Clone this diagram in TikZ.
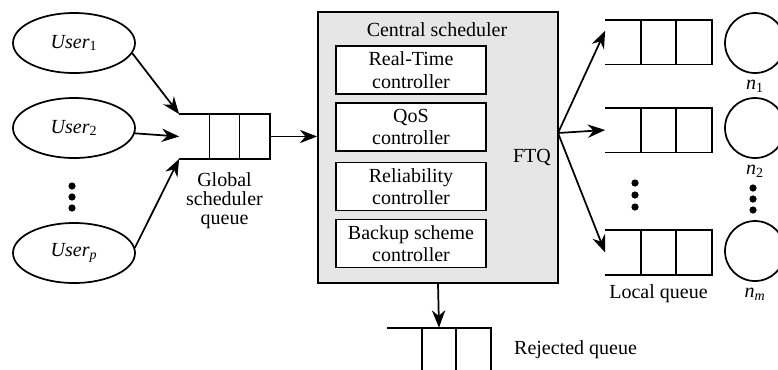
\documentclass[tikz,border=0pt]{standalone}
\usepackage{fontspec}
\setmainfont{Liberation Serif}
\usetikzlibrary{arrows.meta,shapes.geometric,positioning,calc}
\definecolor{csgray}{RGB}{230,230,230}

\begin{document}
\begin{tikzpicture}[x=0.75pt,y=0.75pt,yscale=-1,xscale=1,
  line width=1.3pt, font=\fontsize{15}{17}\selectfont,
  user/.style={draw, ellipse, minimum width=91.5pt, minimum height=45pt, inner sep=0pt},
  queue/.style={minimum height=32.25pt, inner sep=0pt},
  ctrl/.style={draw, fill=white, minimum width=112.5pt, minimum height=36pt, align=center, inner sep=0pt, line width=1.1pt},
  server/.style={draw, circle, minimum size=45pt, inner sep=0pt},
  arr/.style={-{Stealth[length=13pt,width=10pt]}}]
%set diagram size
\useasboundingbox (0,0) rectangle (778,369);

%Users
\node[user] (u1) at (74,43) {\textit{User}\textsubscript{1}};
\node[user] (u2) at (74,128) {\textit{User}\textsubscript{2}};
\node[user] (up) at (74,253) {\textit{User}\textsubscript{\textit{p}}};
\foreach \y in {186,197,208} \fill (72,\y) circle (2.7pt);

%Global scheduler queue
\node[queue, minimum width=66.75pt] (gq) at (224.5,136.5) {};
\node[align=center, font=\fontsize{15}{14.5}\selectfont, below=6pt of gq] (gqlabel) {Global\\scheduler\\queue};

%Central scheduler
\node[draw, fill=csgray, minimum width=180pt, minimum height=203.25pt] (cs) at (438,147.5) {};
\node (cstitle) at (437,30) {Central scheduler};
\node[ctrl] (rt) at (411,70) {Real-Time\\controller};
\node[ctrl] (qos) at (411,127) {QoS\\controller};
\node[ctrl] (rel) at (411,186.5) {Reliability\\controller};
\node[ctrl] (bk) at (411,243.5) {Backup scheme\\controller};
\node (ftq) at (532,157) {FTQ};

%Local queues and nodes
\node[queue, minimum width=78.75pt] (lq1) at (658.5,42) {};
\node[queue, minimum width=78.75pt] (lq2) at (658.5,130) {};
\node[queue, minimum width=78.75pt] (lq3) at (658.5,252.5) {};
\foreach \y in {183,195,207} \fill (635,\y) circle (2.7pt);
\node[below=3pt of lq3] (lqlabel) {Local queue};
\node[server] (s1) at (755,43) {};
\node[server] (s2) at (755,128) {};
\node[server] (s3) at (755,251) {};
\foreach \y in {188,199,210} \fill (753,\y) circle (2.7pt);
\node[below=1pt of s1] (n1) {\textit{n}\textsubscript{1}};
\node[below=1pt of s2] (n2) {\textit{n}\textsubscript{2}};
\node[below=1pt of s3] (nm) {\textit{n}\textsubscript{\textit{m}}};

%Rejected queue
\node[queue, minimum width=76.5pt] (rq) at (439,350) {};
\node[right=13.5pt of rq] (rqlabel) {Rejected queue};

%queue cells
\foreach \q in {gq,lq1,lq2,lq3,rq} {
  \draw (\q.north west) -- (\q.north east) -- (\q.south east) -- (\q.south west);
  \draw ($(\q.north west)!1/3!(\q.north east)$) -- ($(\q.south west)!1/3!(\q.south east)$);
  \draw ($(\q.north west)!2/3!(\q.north east)$) -- ($(\q.south west)!2/3!(\q.south east)$);
}

%Arrows
\draw[arr] (u1.-10) -- (gq.north west);
\draw[arr] (u2.-5) -- (gq.west);
\draw[arr] (up.5) -- (gq.south west);
\draw[arr] (gq.east) -- (gq.east -| cs.west);
\coordinate (fan) at (558,133);
\draw[arr] (fan) -- ($(lq1.south west)!0.75!(lq1.north west)$);
\draw[arr] (fan) -- (lq2.west);
\draw[arr] (fan) -- (lq3.west);
\draw[arr] (cs.south) -- (rq.north);

\end{tikzpicture}
\end{document}
